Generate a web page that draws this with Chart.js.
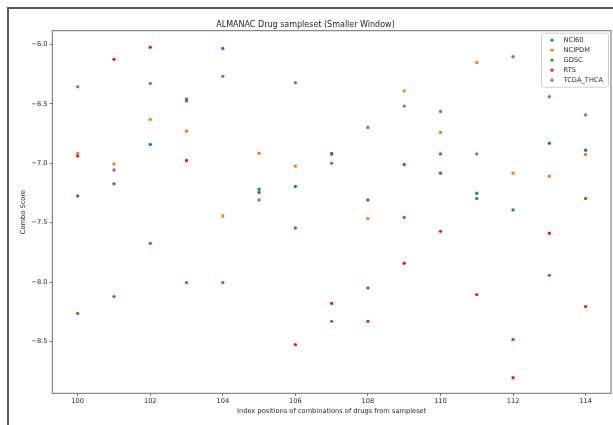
<!DOCTYPE html>
<html lang="en">
<head>
    <meta charset="UTF-8">
    <title>ALMANAC Drug sampleset (Smaller Window)</title>
    <script src="https://cdn.jsdelivr.net/npm/chart.js"></script>
    <style>
        body {
            margin: 0;
            background: white;
            font-family: "DejaVu Sans", sans-serif;
        }
        .wrap {
            position: relative;
            width: 613px;
            height: 425px;
            overflow: hidden;
        }
        .frame {
            position: absolute;
            left: 7px;
            top: 7px;
            width: 620px;
            height: 430px;
            border-left: 2px solid #5a5a5a;
            border-top: 2px solid #5a5a5a;
        }
        canvas {
            position: absolute;
            left: 0;
            top: 0;
        }
    </style>
</head>
<body>
<div class="wrap">
    <div class="frame"></div>
    <canvas id="scoreChart" width="613" height="425"></canvas>
</div>

<script>
    // index positions on the x axis
    const indices = [100, 101, 102, 103, 104, 105, 106, 107, 108, 109, 110, 111, 112, 113, 114];

    // combo scores per dataset (null = no point shown)
    const nci60    = [-7.274, -7.173, -6.842, -6.475, -6.034, -7.246, -7.195, -6.917, -7.308, -7.010, -7.083, -7.252, -7.392, -6.831, -6.890];
    const ncipdm   = [-6.917, -7.005, -6.631, -6.730, -7.443, -6.915, -7.024, -6.926, -7.465, -6.391, -6.741, -6.152, -7.083, -7.109, -6.926];
    const gdsc     = [-8.262, -8.121, -7.673, -8.003, -8.003, -7.218, -7.544, -8.329, -8.049, -7.456, -6.921, -7.296, -8.481, -7.942, -7.296];
    const rts      = [-6.938, -6.126, -6.025, -6.977, null, null, -8.525, -8.178, -8.329, -7.841, -7.572, -8.104, -8.803, -7.588, -8.205];
    const tcgaThca = [-6.357, -7.056, -6.328, -6.458, -6.269, -7.308, -6.323, -6.999, -6.699, -6.519, -6.564, -6.921, -6.104, -6.441, -6.593];

    const seriesNames = ['NCI60', 'NCIPDM', 'GDSC', 'RTS', 'TCGA_THCA'];
    const seriesColors = ['#1f77b4', '#ff7f0e', '#2ca02c', '#d62728', '#9467bd'];

    const xTicks = [100, 102, 104, 106, 108, 110, 112, 114];
    const yTicks = [-8.5, -8.0, -7.5, -7.0, -6.5, -6.0];

    function toPoints(values) {
        return indices
            .map((x, i) => ({ x: x, y: values[i] }))
            .filter(p => p.y !== null);
    }

    const allSeries = [nci60, ncipdm, gdsc, rts, tcgaThca];

    const textColor = '#262626';
    const axisColor = '#6e6e6e';
    const smallFont = { family: 'DejaVu Sans', size: 6.67 };

    // box around the plot area (all four spines)
    const spines = {
        id: 'spines',
        afterDatasetsDraw(chart) {
            const { ctx, chartArea } = chart;
            ctx.save();
            ctx.strokeStyle = axisColor;
            ctx.lineWidth = 1;
            ctx.strokeRect(chartArea.left, chartArea.top,
                chartArea.right - chartArea.left, chartArea.bottom - chartArea.top);
            ctx.restore();
        }
    };

    // legend drawn inside the upper right corner, matplotlib style
    const cornerLegend = {
        id: 'cornerLegend',
        afterDraw(chart) {
            const { ctx, chartArea } = chart;
            const w = 67, h = 54;
            const x0 = chartArea.right - 2.5 - w;
            const y0 = chartArea.top + 2.5;
            ctx.save();
            ctx.fillStyle = 'rgba(255,255,255,0.8)';
            ctx.strokeStyle = '#d0d0d0';
            ctx.lineWidth = 1;
            ctx.beginPath();
            ctx.roundRect(x0, y0, w, h, 2);
            ctx.fill();
            ctx.stroke();
            ctx.font = '6.67px "DejaVu Sans"';
            ctx.textBaseline = 'middle';
            chart.data.datasets.forEach((ds, i) => {
                const y = y0 + 7 + i * 10;
                ctx.fillStyle = ds.backgroundColor;
                ctx.beginPath();
                ctx.arc(x0 + 10.5, y, 1.6, 0, Math.PI * 2);
                ctx.fill();
                ctx.fillStyle = textColor;
                ctx.fillText(ds.label, x0 + 22, y);
            });
            ctx.restore();
        }
    };

    const ctx = document.getElementById('scoreChart').getContext('2d');
    new Chart(ctx, {
        type: 'scatter',
        data: {
            datasets: seriesNames.map((name, i) => ({
                label: name,
                data: toPoints(allSeries[i]),
                backgroundColor: seriesColors[i],
                borderWidth: 0,
                pointRadius: 1.7,
                pointHoverRadius: 1.7
            }))
        },
        options: {
            responsive: false,
            animation: false,
            devicePixelRatio: 1,
            layout: { padding: { left: 0, right: 2, top: 0, bottom: 0 } },
            plugins: {
                legend: { display: false },
                tooltip: { enabled: false },
                title: {
                    display: true,
                    text: 'ALMANAC Drug sampleset (Smaller Window)',
                    color: textColor,
                    font: { family: 'DejaVu Sans', size: 8, weight: 'normal' },
                    padding: { top: 20, bottom: 1.1 }
                }
            },
            scales: {
                x: {
                    type: 'linear',
                    min: 99.3,
                    max: 114.7,
                    afterBuildTicks(scale) {
                        scale.ticks = xTicks.map(v => ({ value: v }));
                    },
                    afterFit(scale) {
                        scale.height = 31.7;
                    },
                    grid: {
                        drawOnChartArea: false,
                        drawTicks: true,
                        tickLength: 2.5,
                        color: axisColor
                    },
                    border: { display: false },
                    ticks: {
                        color: textColor,
                        font: smallFont,
                        padding: 1.9,
                        maxRotation: 0,
                        callback: v => String(v)
                    },
                    title: {
                        display: true,
                        text: 'Index positions of combinations of drugs from sampleset',
                        color: textColor,
                        font: smallFont,
                        padding: { top: 0, bottom: 9.8 }
                    }
                },
                y: {
                    type: 'linear',
                    min: -8.934,
                    max: -5.885,
                    afterBuildTicks(scale) {
                        scale.ticks = yTicks.map(v => ({ value: v }));
                    },
                    afterFit(scale) {
                        scale.width = 52.3;
                    },
                    grid: {
                        drawOnChartArea: false,
                        drawTicks: true,
                        tickLength: 2.5,
                        color: axisColor
                    },
                    border: { display: false },
                    ticks: {
                        color: textColor,
                        font: smallFont,
                        padding: 2.3,
                        callback: v => (v < 0 ? '\u2212' : '') + Math.abs(v).toFixed(1)
                    },
                    title: {
                        display: true,
                        text: 'Combo Score',
                        color: textColor,
                        font: smallFont,
                        padding: { top: 19.3, bottom: 0 }
                    }
                }
            }
        },
        plugins: [spines, cornerLegend]
    });
</script>
</body>
</html>
